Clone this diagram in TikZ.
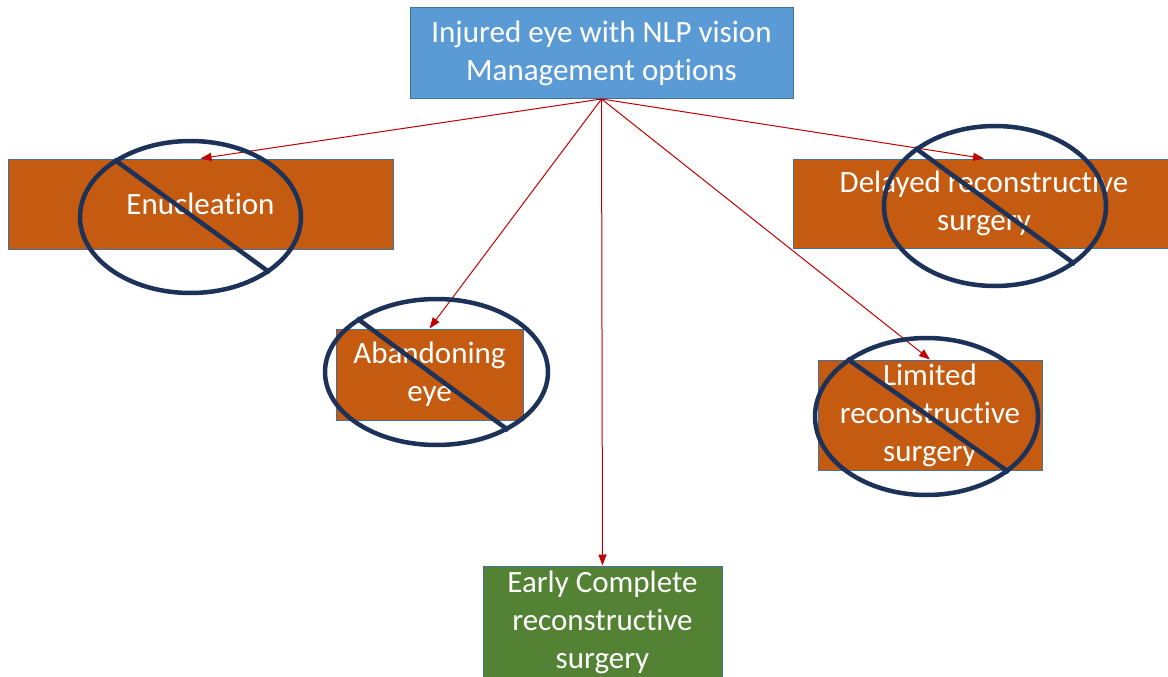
\documentclass[tikz,border=0pt]{standalone}
\usepackage{fontspec}
\setmainfont[Ligatures=NoCommon]{Carlito}
\usetikzlibrary{arrows.meta,shapes.geometric}
\definecolor{boxblue}{RGB}{91,155,213}
\definecolor{edgeblue}{RGB}{65,113,156}
\definecolor{boxorange}{RGB}{197,90,17}
\definecolor{boxgreen}{RGB}{84,130,53}
\definecolor{arrowred}{RGB}{192,0,0}
\definecolor{navy}{RGB}{28,50,88}
\begin{document}
\begin{tikzpicture}[x=1pt,y=-1pt,
  box/.style={draw=edgeblue, line width=1pt, inner sep=0pt, text=white, align=center,
    font=\fontsize{31}{38}\selectfont},
  bluebox/.style={box, fill=boxblue},
  orangebox/.style={box, fill=boxorange},
  greenbox/.style={box, fill=boxgreen},
  noring/.style={ellipse, draw=navy, line width=4.5pt, inner sep=0pt},
  noslash/.style={draw=navy, line width=4.5pt},
  arrowline/.style={draw=arrowred, line width=1pt, -{Triangle[length=11pt,width=8pt]}}
]
\clip (0,0) rectangle (1168,677);
\fill[white] (0,0) rectangle (1168,677);

\node[bluebox, minimum width=383pt, minimum height=91pt] (root) at (601.5,53)
  {Injured eye with NLP vision\\Management options};
\node[orangebox, minimum width=385pt, minimum height=90pt] (enuc) at (200.5,204)
  {Enucleation};
\node[orangebox, minimum width=382pt, minimum height=89pt] (delayed) at (984,203.5)
  {Delayed reconstructive\\surgery};
\node[orangebox, minimum width=187pt, minimum height=91pt] (aband) at (429.5,374.5)
  {Abandoning\\eye};
\node[orangebox, minimum width=224pt, minimum height=110pt] (limited) at (930,415)
  {Limited\\reconstructive\\surgery};
\node[greenbox, minimum width=239pt, minimum height=112pt] (early) at (602.5,622)
  {Early Complete\\reconstructive\\surgery};

\draw[arrowline] (root.south) -- (enuc.north);
\draw[arrowline] (root.south) -- (delayed.north);
\draw[arrowline] (root.south) -- (aband.north);
\draw[arrowline] (root.south) -- (limited.north);
\draw[arrowline] (root.south) -- (early.north);

\node[noring, minimum width=221pt, minimum height=152pt] (e1) at (190.5,217) {};
\node[noring, minimum width=222pt, minimum height=160pt] (e2) at (995,206) {};
\node[noring, minimum width=223pt, minimum height=146pt] (e3) at (436.5,372) {};
\node[noring, minimum width=223pt, minimum height=157pt] (e4) at (926.5,416.5) {};

\draw[noslash] (e1.143) -- (e1.-35);
\draw[noslash] (e2.144) -- (e2.-36);
\draw[noslash] (e3.146) -- (e3.-39);
\draw[noslash] (e4.144) -- (e4.-34);
\end{tikzpicture}
\end{document}
